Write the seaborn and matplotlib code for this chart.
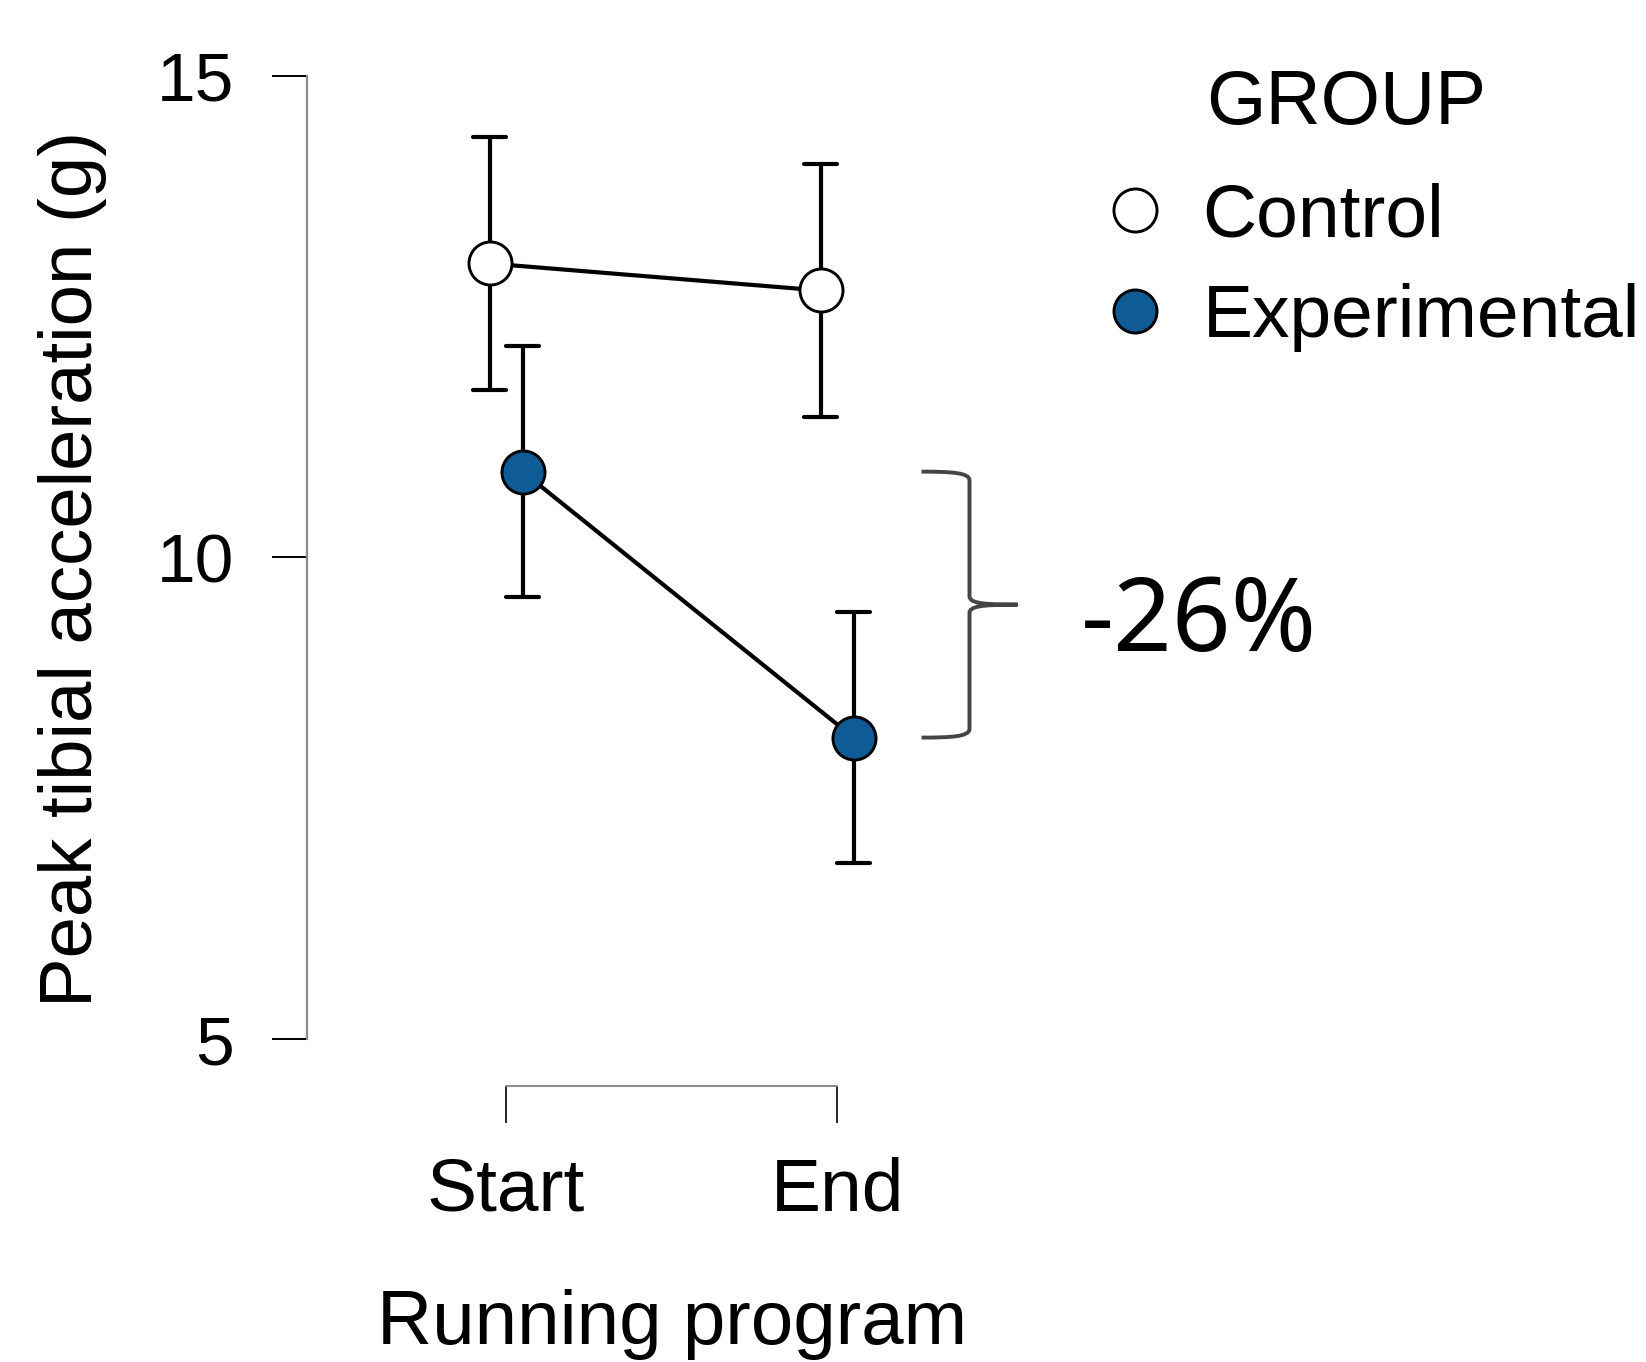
import numpy as np
import pandas as pd
import matplotlib
matplotlib.use("Agg")
import matplotlib.pyplot as plt
from matplotlib.path import Path
from matplotlib.patches import PathPatch
from matplotlib.lines import Line2D
import seaborn as sns

# ---- data ----
times = ["Start", "End"]
groups = ["Control", "Experimental"]
control_mean = [13.05, 12.77]
control_err = [1.31, 1.31]
experimental_mean = [10.89, 8.13]
experimental_err = [1.30, 1.30]
yticks = [5, 10, 15]
change_label = "-26%"

group_fill = {"Control": "white", "Experimental": "#0f5b96"}

rows = []
for g, means, errs in [("Control", control_mean, control_err),
                       ("Experimental", experimental_mean, experimental_err)]:
    for t, m, e in zip(times, means, errs):
        for v in (m - e, m, m + e):
            rows.append({"GROUP": g, "Running program": t, "value": v})
df = pd.DataFrame(rows)

sns.set_theme(style="white")
plt.rcParams["font.family"] = ["Liberation Sans", "DejaVu Sans"]
plt.rcParams["text.color"] = "black"
plt.rcParams["axes.labelcolor"] = "black"
plt.rcParams["xtick.color"] = "black"
plt.rcParams["ytick.color"] = "black"

fig = plt.figure(figsize=(16.46, 13.62), dpi=100)
ax = fig.add_axes([0.2270, 0.2370, 0.3620, 0.7075])

sns.pointplot(
    data=df, x="Running program", y="value", hue="GROUP",
    order=times, hue_order=groups, palette=["black", "black"],
    dodge=0.1, markers="o", linestyles="-", capsize=0.1,
    errorbar=lambda v: (v.min(), v.max()),
    markersize=31, markeredgewidth=2.1, linewidth=3.0,
    err_kws={"linewidth": 3.0}, legend=False, ax=ax,
)

for line in ax.lines:
    line.set_linewidth(3.0)
point_lines = [l for l in ax.lines if l.get_marker() not in (None, "None", "", " ")]
for line, g in zip(point_lines, groups):
    line.set_markerfacecolor(group_fill[g])
    line.set_markeredgecolor("black")
    line.set_markeredgewidth(2.1)
    line.set_markersize(31)
    line.set_zorder(4)

ax.set_xlim(-0.4, 1.4)
ax.set_ylim(5, 15)
ax.set_yticks(yticks)
ax.set_yticklabels([str(t) for t in yticks])

for s in ["top", "right"]:
    ax.spines[s].set_visible(False)
ax.spines["left"].set_position(("outward", 48.3))
ax.spines["bottom"].set_position(("outward", 34))
ax.spines["left"].set_bounds(5, 15)
ax.spines["bottom"].set_bounds(0, 1)
ax.spines["left"].set_color("#8a8a8a")
ax.spines["left"].set_linewidth(1.6)
ax.spines["bottom"].set_color("#8a8a8a")
ax.spines["bottom"].set_linewidth(1.4)

ax.tick_params(axis="y", direction="out", length=25, width=1.4, color="black",
               labelsize=50, pad=27, left=True, labelcolor="black")
ax.tick_params(axis="x", direction="out", length=26.5, width=1.4, color="#222222",
               labelsize=54, pad=24, bottom=True, labelcolor="black")

ax.set_ylabel("Peak tibial acceleration (g)", fontsize=53.6, labelpad=36, color="black")
ax.yaxis.label.set_y(0.488)
ax.set_xlabel("Running program", fontsize=55, labelpad=46, color="black")

# ---- brace annotation for the experimental change ----
yt, yb = experimental_mean[0], experimental_mean[1]
ym = (yt + yb) / 2
xl, xv, xt = 1.255, 1.40, 1.545
ry = 0.09
verts = [
    (xl, yt), (xl + 0.09, yt), (xv, yt - 0.01), (xv, yt - ry),
    (xv, ym + ry),
    (xv, ym + 0.02), (xv + 0.03, ym), (xt, ym),
    (xv + 0.03, ym), (xv, ym - 0.02), (xv, ym - ry),
    (xv, yb + ry),
    (xv, yb + 0.01), (xl + 0.09, yb), (xl, yb),
]
codes = [Path.MOVETO, Path.CURVE4, Path.CURVE4, Path.CURVE4,
         Path.LINETO,
         Path.CURVE4, Path.CURVE4, Path.CURVE4,
         Path.CURVE4, Path.CURVE4, Path.CURVE4,
         Path.LINETO,
         Path.CURVE4, Path.CURVE4, Path.CURVE4]
ax.add_patch(PathPatch(Path(verts, codes), facecolor="none", edgecolor="#444444",
                       linewidth=2.8, clip_on=False))
ax.text(1.737, ym - 0.48, change_label, fontsize=74, va="baseline", ha="left",
        family="Noto Sans", color="black", clip_on=False)

# ---- legend ----
handles = [Line2D([], [], linestyle="none", marker="o", markersize=31,
                  markerfacecolor=group_fill[g], markeredgecolor="black",
                  markeredgewidth=2.1) for g in groups]
leg = fig.legend(handles, groups, loc="upper left", bbox_to_anchor=(0.676, 0.866),
                 frameon=False, fontsize=54, handlelength=0.6, handletextpad=0.6,
                 labelspacing=0.42, borderpad=0, borderaxespad=0)
for t in leg.get_texts():
    t.set_color("black")
fig.text(0.733, 0.9090, "GROUP", fontsize=55, ha="left", va="baseline", color="black")

fig.savefig("out.png", dpi=100)
